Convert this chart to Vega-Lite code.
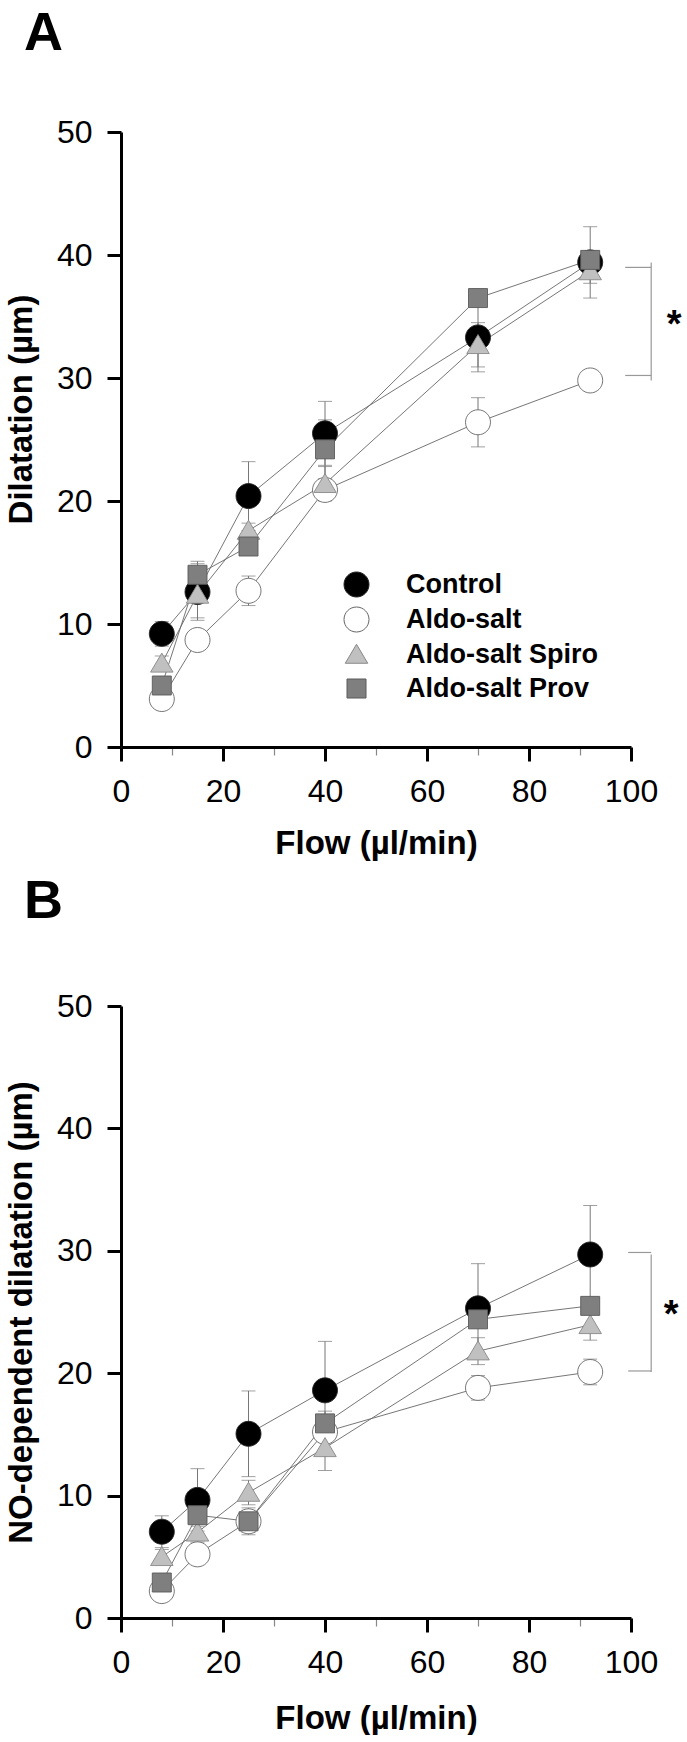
{
  "$schema": "https://vega.github.io/schema/vega-lite/v6.json",
  "background": "white",
  "padding": {"left": 5, "top": 7, "right": 0, "bottom": 0},
  "config": {
    "view": {"stroke": null},
    "font": "Liberation Sans",
    "axis": {
      "grid": false,
      "domainColor": "black",
      "domainWidth": 3,
      "tickColor": "black",
      "tickWidth": 3,
      "tickSize": 14,
      "labelFont": "Liberation Sans",
      "labelFontSize": 32,
      "labelColor": "black",
      "labelFlush": false,
      "titleFont": "Liberation Sans",
      "titleFontSize": 33,
      "titleFontWeight": "bold",
      "titleColor": "black"
    },
    "title": {"font": "Liberation Sans", "fontSize": 54, "fontWeight": "bold", "color": "black", "anchor": "start", "frame": "group", "dx": -97, "baseline": "alphabetic"}
  },
  "datasets": {
    "A": [
      {"group": "Control", "flow": 8, "mean": 9.2, "err": 1.0},
      {"group": "Control", "flow": 15, "mean": 12.6, "err": 2.3},
      {"group": "Control", "flow": 25, "mean": 20.4, "err": 2.8},
      {"group": "Control", "flow": 40, "mean": 25.5, "err": 2.6},
      {"group": "Control", "flow": 70, "mean": 33.3, "err": 2.8},
      {"group": "Control", "flow": 92, "mean": 39.4, "err": 2.9},
      {"group": "Aldo-salt", "flow": 8, "mean": 3.9, "err": 0.6},
      {"group": "Aldo-salt", "flow": 15, "mean": 8.7, "err": 0.8},
      {"group": "Aldo-salt", "flow": 25, "mean": 12.7, "err": 1.2},
      {"group": "Aldo-salt", "flow": 40, "mean": 20.9, "err": 0.8},
      {"group": "Aldo-salt", "flow": 70, "mean": 26.4, "err": 2.0},
      {"group": "Aldo-salt", "flow": 92, "mean": 29.8, "err": 0.8},
      {"group": "Aldo-salt Spiro", "flow": 8, "mean": 6.8, "err": 0.6},
      {"group": "Aldo-salt Spiro", "flow": 15, "mean": 12.4, "err": 1.9},
      {"group": "Aldo-salt Spiro", "flow": 25, "mean": 17.6, "err": 0.6},
      {"group": "Aldo-salt Spiro", "flow": 40, "mean": 21.4, "err": 1.4},
      {"group": "Aldo-salt Spiro", "flow": 70, "mean": 32.7, "err": 1.8},
      {"group": "Aldo-salt Spiro", "flow": 92, "mean": 38.7, "err": 1.0},
      {"group": "Aldo-salt Prov", "flow": 8, "mean": 5.0, "err": 0.6},
      {"group": "Aldo-salt Prov", "flow": 15, "mean": 14.0, "err": 1.1},
      {"group": "Aldo-salt Prov", "flow": 25, "mean": 16.3, "err": 0.6},
      {"group": "Aldo-salt Prov", "flow": 40, "mean": 24.2, "err": 2.4},
      {"group": "Aldo-salt Prov", "flow": 70, "mean": 36.5, "err": 0.7},
      {"group": "Aldo-salt Prov", "flow": 92, "mean": 39.6, "err": 0.7}
    ],
    "B": [
      {"group": "Control", "flow": 8, "mean": 7.05, "err": 1.3},
      {"group": "Control", "flow": 15, "mean": 9.65, "err": 2.55},
      {"group": "Control", "flow": 25, "mean": 15.05, "err": 3.5},
      {"group": "Control", "flow": 40, "mean": 18.6, "err": 4.0},
      {"group": "Control", "flow": 70, "mean": 25.3, "err": 3.65},
      {"group": "Control", "flow": 92, "mean": 29.7, "err": 4.0},
      {"group": "Aldo-salt", "flow": 8, "mean": 2.2, "err": 0.5},
      {"group": "Aldo-salt", "flow": 15, "mean": 5.2, "err": 0.6},
      {"group": "Aldo-salt", "flow": 25, "mean": 7.9, "err": 0.9},
      {"group": "Aldo-salt", "flow": 40, "mean": 15.2, "err": 0.8},
      {"group": "Aldo-salt", "flow": 70, "mean": 18.8, "err": 1.0},
      {"group": "Aldo-salt", "flow": 92, "mean": 20.1, "err": 1.05},
      {"group": "Aldo-salt Spiro", "flow": 8, "mean": 5.0, "err": 0.6},
      {"group": "Aldo-salt Spiro", "flow": 15, "mean": 7.0, "err": 0.8},
      {"group": "Aldo-salt Spiro", "flow": 25, "mean": 10.25, "err": 1.0},
      {"group": "Aldo-salt Spiro", "flow": 40, "mean": 13.9, "err": 1.85},
      {"group": "Aldo-salt Spiro", "flow": 70, "mean": 21.8, "err": 1.1},
      {"group": "Aldo-salt Spiro", "flow": 92, "mean": 23.95, "err": 1.25},
      {"group": "Aldo-salt Prov", "flow": 8, "mean": 2.9, "err": 0.6},
      {"group": "Aldo-salt Prov", "flow": 15, "mean": 8.4, "err": 0.9},
      {"group": "Aldo-salt Prov", "flow": 25, "mean": 7.9, "err": 1.1},
      {"group": "Aldo-salt Prov", "flow": 40, "mean": 15.9, "err": 1.0},
      {"group": "Aldo-salt Prov", "flow": 70, "mean": 24.4, "err": 0.7},
      {"group": "Aldo-salt Prov", "flow": 92, "mean": 25.5, "err": 0.7}
    ]
  },
  "resolve": {"legend": {"fill": "independent", "shape": "independent", "stroke": "independent"}},
  "vconcat": [
    {
      "width": 510,
      "height": 615,
      "title": {"text": "A", "offset": 55},
      "data": {"name": "A"},
      "encoding": {
        "x": {"field": "flow", "type": "quantitative", "scale": {"domain": [0, 100], "nice": false},
          "axis": {"title": "Flow (µl/min)", "values": [0,10,20,30,40,50,60,70,80,90,100], "labelExpr": "datum.value % 20 === 0 ? datum.label : ''", "labelPadding": 15, "titlePadding": 20,
            "tickColor": {"condition": {"test": "datum.value % 20 !== 0", "value": "#888"}, "value": "black"},
            "tickWidth": {"condition": {"test": "datum.value % 20 !== 0", "value": 1.2}, "value": 3},
            "tickDash": {"condition": {"test": "datum.value % 20 !== 0", "value": [8, 40]}, "value": []}}},
        "y": {"field": "mean", "type": "quantitative", "scale": {"domain": [0, 50], "nice": false},
          "axis": {"title": "Dilatation (µm)", "values": [0,10,20,30,40,50], "labelPadding": 15, "titlePadding": 18, "titleY": 277}}
      },
      "layer": [
        {"mark": {"type": "line", "color": "#666", "strokeWidth": 0.9}, "encoding": {"detail": {"field": "group"}}},
        {"mark": {"type": "errorbar", "ticks": {"size": 14}, "color": "#777", "thickness": 1}, "encoding": {"yError": {"field": "err"}, "detail": {"field": "group"}}},
        {"mark": {"type": "point", "size": 625, "strokeWidth": 0.9, "opacity": 1, "fillOpacity": 1},
          "encoding": {
            "fill": {"field": "group", "type": "nominal",
              "scale": {"domain": ["Control", "Aldo-salt", "Aldo-salt Spiro", "Aldo-salt Prov"], "range": ["#000000", "#ffffff", "#c0c0c0", "#7f7f7f"]},
              "legend": {"orient": "none", "legendX": 222, "legendY": 439, "title": null, "labelFont": "Liberation Sans", "labelFontSize": 27, "labelFontWeight": "bold", "labelColor": "black", "labelLimit": 500, "symbolSize": 625, "symbolStrokeWidth": 1, "symbolOpacity": 1, "labelOffset": 36, "rowPadding": 6}},
            "stroke": {"field": "group", "type": "nominal",
              "scale": {"domain": ["Control", "Aldo-salt", "Aldo-salt Spiro", "Aldo-salt Prov"], "range": ["#222222", "#666666", "#888888", "#5a5a5a"]},
              "legend": {"orient": "none", "legendX": 222, "legendY": 439, "title": null, "labelFont": "Liberation Sans", "labelFontSize": 27, "labelFontWeight": "bold", "labelColor": "black", "labelLimit": 500, "symbolSize": 625, "symbolStrokeWidth": 1, "symbolOpacity": 1, "labelOffset": 36, "rowPadding": 6}},
            "shape": {"field": "group", "type": "nominal",
              "scale": {"domain": ["Control", "Aldo-salt", "Aldo-salt Spiro", "Aldo-salt Prov"], "range": ["M1,0A1,1,0,1,1,-1,0A1,1,0,1,1,1,0Z", "M1,0A1,1,0,1,1,-1,0A1,1,0,1,1,1,0Z", "M0,-0.82L0.9,0.7L-0.9,0.7Z", "M-0.76,-0.76H0.76V0.76H-0.76Z"]},
              "legend": {"orient": "none", "legendX": 222, "legendY": 439, "title": null, "labelFont": "Liberation Sans", "labelFontSize": 27, "labelFontWeight": "bold", "labelColor": "black", "labelLimit": 500, "symbolSize": 625, "symbolStrokeWidth": 1, "symbolOpacity": 1, "labelOffset": 36, "rowPadding": 6}}
          }},
        {"transform": [{"filter": "datum.flow === 92 && datum.group === 'Control'"}],
          "mark": {"type": "rule", "color": "#999", "strokeWidth": 1.2, "xOffset": 35, "x2Offset": 61, "yOffset": 5, "y2Offset": 5},
          "encoding": {"x2": {"field": "flow"}}},
        {"transform": [{"filter": "datum.flow === 92 && datum.group === 'Aldo-salt'"}],
          "mark": {"type": "rule", "color": "#999", "strokeWidth": 1.2, "xOffset": 35, "x2Offset": 61, "yOffset": -5, "y2Offset": -5},
          "encoding": {"x2": {"field": "flow"}}},
        {"transform": [{"filter": "datum.flow === 92 && (datum.group === 'Control' || datum.group === 'Aldo-salt')"}],
          "mark": {"type": "line", "color": "#999", "strokeWidth": 1.2, "xOffset": 61},
          "encoding": {"order": {"field": "mean"}}},
        {"transform": [{"filter": "datum.flow === 92 && (datum.group === 'Control' || datum.group === 'Aldo-salt')"}, {"aggregate": [{"op": "mean", "field": "mean", "as": "mean"}], "groupby": ["flow"]}],
          "mark": {"type": "text", "text": "*", "fontSize": 38, "fontWeight": "bold", "font": "Liberation Sans", "color": "black", "baseline": "middle", "dx": 84, "dy": 5}}
      ]
    },
    {
      "width": 510,
      "height": 612,
      "title": {"text": "B", "offset": 61},
      "data": {"name": "B"},
      "encoding": {
        "x": {"field": "flow", "type": "quantitative", "scale": {"domain": [0, 100], "nice": false},
          "axis": {"title": "Flow (µl/min)", "values": [0,10,20,30,40,50,60,70,80,90,100], "labelExpr": "datum.value % 20 === 0 ? datum.label : ''", "labelPadding": 15, "titlePadding": 24,
            "tickColor": {"condition": {"test": "datum.value % 20 !== 0", "value": "#888"}, "value": "black"},
            "tickWidth": {"condition": {"test": "datum.value % 20 !== 0", "value": 1.2}, "value": 3},
            "tickDash": {"condition": {"test": "datum.value % 20 !== 0", "value": [8, 40]}, "value": []}}},
        "y": {"field": "mean", "type": "quantitative", "scale": {"domain": [0, 50], "nice": false},
          "axis": {"title": "NO-dependent dilatation (µm)", "values": [0,10,20,30,40,50], "labelPadding": 15, "titlePadding": 18}}
      },
      "layer": [
        {"mark": {"type": "line", "color": "#666", "strokeWidth": 0.9}, "encoding": {"detail": {"field": "group"}}},
        {"mark": {"type": "errorbar", "ticks": {"size": 14}, "color": "#777", "thickness": 1}, "encoding": {"yError": {"field": "err"}, "detail": {"field": "group"}}},
        {"mark": {"type": "point", "size": 625, "strokeWidth": 0.9, "opacity": 1, "fillOpacity": 1},
          "encoding": {
            "fill": {"field": "group", "type": "nominal",
              "scale": {"domain": ["Control", "Aldo-salt", "Aldo-salt Spiro", "Aldo-salt Prov"], "range": ["#000000", "#ffffff", "#c0c0c0", "#7f7f7f"]}, "legend": null},
            "stroke": {"field": "group", "type": "nominal",
              "scale": {"domain": ["Control", "Aldo-salt", "Aldo-salt Spiro", "Aldo-salt Prov"], "range": ["#222222", "#666666", "#888888", "#5a5a5a"]}, "legend": null},
            "shape": {"field": "group", "type": "nominal",
              "scale": {"domain": ["Control", "Aldo-salt", "Aldo-salt Spiro", "Aldo-salt Prov"], "range": ["M1,0A1,1,0,1,1,-1,0A1,1,0,1,1,1,0Z", "M1,0A1,1,0,1,1,-1,0A1,1,0,1,1,1,0Z", "M0,-0.82L0.9,0.7L-0.9,0.7Z", "M-0.76,-0.76H0.76V0.76H-0.76Z"]}, "legend": null}
          }},
        {"transform": [{"filter": "datum.flow === 92 && datum.group === 'Control'"}],
          "mark": {"type": "rule", "color": "#999", "strokeWidth": 1.2, "xOffset": 38, "x2Offset": 61, "yOffset": -2, "y2Offset": -2},
          "encoding": {"x2": {"field": "flow"}}},
        {"transform": [{"filter": "datum.flow === 92 && datum.group === 'Aldo-salt'"}],
          "mark": {"type": "rule", "color": "#999", "strokeWidth": 1.2, "xOffset": 38, "x2Offset": 61, "yOffset": -1, "y2Offset": -1},
          "encoding": {"x2": {"field": "flow"}}},
        {"transform": [{"filter": "datum.flow === 92 && (datum.group === 'Control' || datum.group === 'Aldo-salt')"}],
          "mark": {"type": "line", "color": "#999", "strokeWidth": 1.2, "xOffset": 61},
          "encoding": {"order": {"field": "mean"}}},
        {"transform": [{"filter": "datum.flow === 92 && (datum.group === 'Control' || datum.group === 'Aldo-salt')"}, {"aggregate": [{"op": "mean", "field": "mean", "as": "mean"}], "groupby": ["flow"]}],
          "mark": {"type": "text", "text": "*", "fontSize": 38, "fontWeight": "bold", "font": "Liberation Sans", "color": "black", "baseline": "middle", "dx": 81, "dy": 3}}
      ]
    }
  ],
  "spacing": 259,
  "bounds": "flush"
}
